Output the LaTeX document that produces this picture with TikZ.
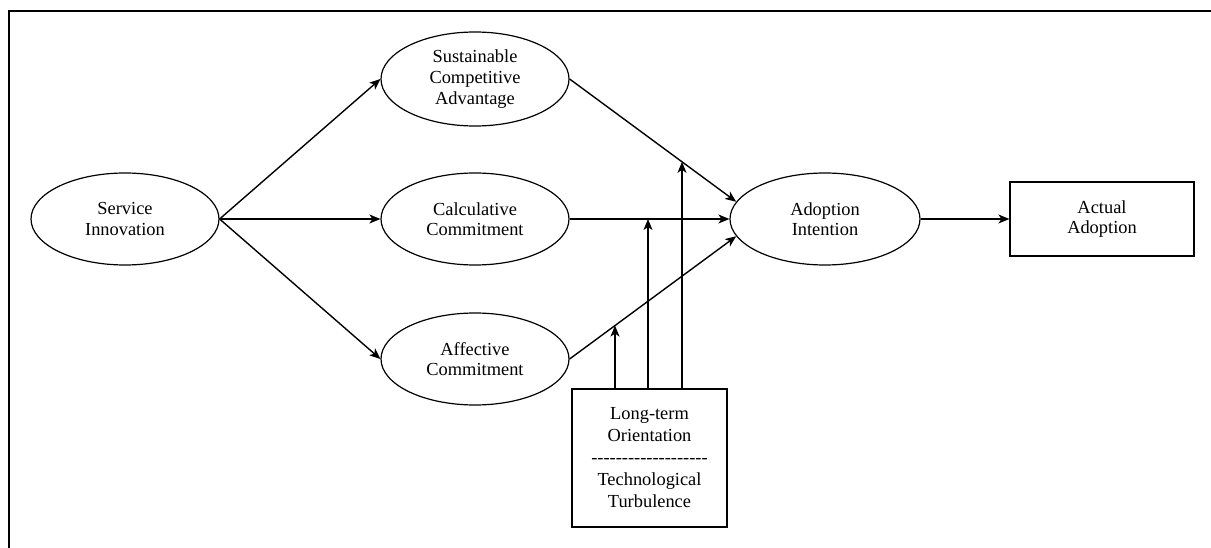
\documentclass[tikz,border=0pt]{standalone}
\usepackage{fontspec}
\setmainfont{Liberation Serif}
\newfontfamily\dashfont{Liberation Serif}
\usetikzlibrary{shapes.geometric,arrows.meta,intersections,calc}
\begin{document}
\begin{tikzpicture}[x=1pt,y=-1pt,
  conn/.style={line width=1.4pt,-{Stealth[length=11pt,width=9pt,inset=3pt]}},
  oval/.style={ellipse,draw,line width=1.2pt,inner sep=0pt,minimum width=188pt,minimum height=92pt,align=center,font=\fontsize{18.4}{20.5}\selectfont},
  boxnode/.style={rectangle,draw,line width=1.2pt,inner sep=0pt,align=center,font=\fontsize{18.4}{20.5}\selectfont},
  frameline/.style={line width=2.4pt}]
\useasboundingbox (0,0) rectangle (1211,548);
\draw[frameline] (1215,11) -- (9,11) -- (9,552);

\node[oval] (si) at (125,219) {Service\\Innovation};
\node[oval,minimum height=94pt,font=\fontsize{18.4}{21}\selectfont] (sca) at (475,79) {Sustainable\\Competitive\\Advantage};
\node[oval] (cc) at (475,219) {Calculative\\Commitment};
\node[oval] (ac) at (475,359) {Affective\\Commitment};
\node[oval,minimum width=190pt] (ai) at (825,219) {Adoption\\Intention};
\node[boxnode,minimum width=184pt,minimum height=74pt] (aa) at (1102,219) {Actual\\Adoption};
\node[boxnode,minimum width=155pt,minimum height=138pt,font=\fontsize{18.4}{22}\selectfont] (lto) at (649.5,458) {Long-term\\Orientation\\{\dashfont -------------------}\\Technological\\Turbulence};

\draw[conn] (si.east) -- (sca.west);
\draw[conn] (si.east) -- (cc.west);
\draw[conn] (si.east) -- (ac.west);
\draw[conn,name path=p1] (sca.east) -- (ai.169);
\draw[conn,name path=p2] (cc.east) -- (ai.west);
\draw[conn,name path=p3] (ac.east) -- (ai.191);
\draw[conn] (ai.east) -- (aa.west);

\coordinate (b1) at ([xshift=-34.5pt]lto.north);
\coordinate (b2) at ([xshift=-1.5pt]lto.north);
\coordinate (b3) at ([xshift=32.5pt]lto.north);
\path[name path=v1] (b1) -- ++(0,-300);
\path[name path=v2] (b2) -- ++(0,-300);
\path[name path=v3] (b3) -- ++(0,-300);
\path[name intersections={of=v1 and p3,by=i1}];
\path[name intersections={of=v2 and p2,by=i2}];
\path[name intersections={of=v3 and p1,by=i3}];
\draw[conn] (b1) -- (i1);
\draw[conn] (b2) -- (i2);
\draw[conn] (b3) -- (i3);
\end{tikzpicture}
\end{document}
